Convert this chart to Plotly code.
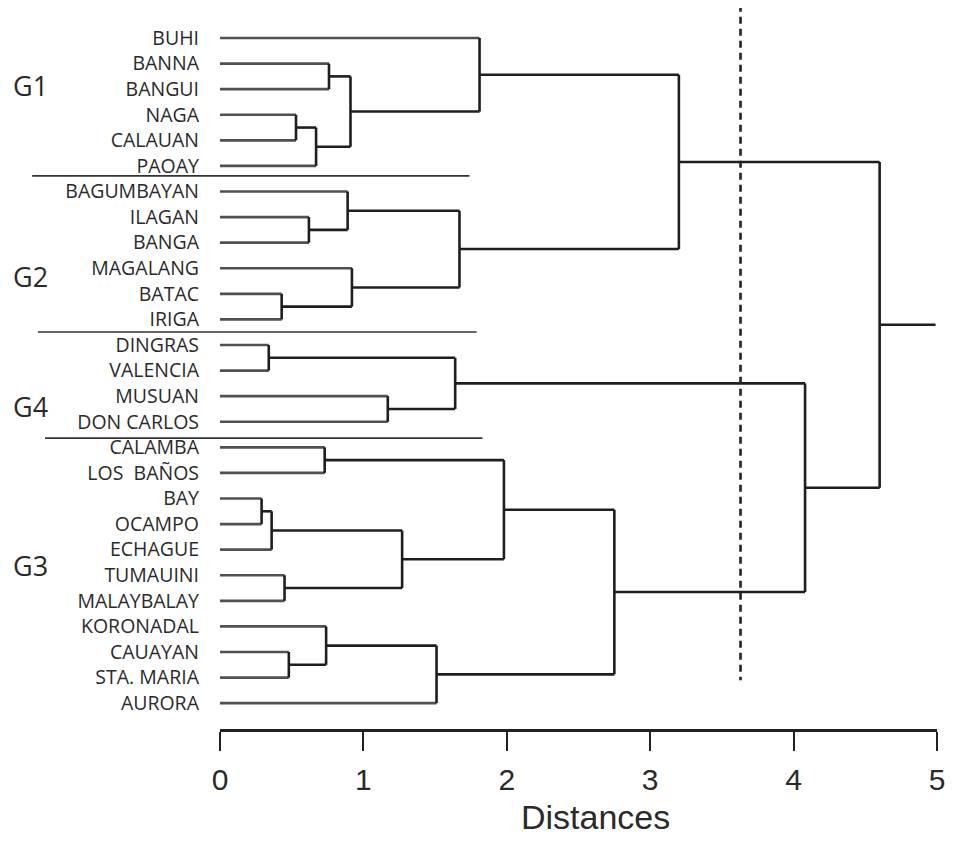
import plotly.graph_objects as go

# ---- data ----
leaves = ["BUHI", "BANNA", "BANGUI", "NAGA", "CALAUAN", "PAOAY",
          "BAGUMBAYAN", "ILAGAN", "BANGA", "MAGALANG", "BATAC", "IRIGA",
          "DINGRAS", "VALENCIA", "MUSUAN", "DON CARLOS",
          "CALAMBA", "LOS  BAÑOS", "BAY", "OCAMPO", "ECHAGUE", "TUMAUINI",
          "MALAYBALAY", "KORONADAL", "CAUAYAN", "STA. MARIA", "AURORA"]

# merges: (cluster id, left child, right child, distance)
merge_ids = ["c1", "c2", "c3", "c4", "c5", "c6", "c7", "c8", "c9", "c10",
             "c11", "c12", "c13", "c14", "c15", "c16", "c17", "c18", "c19",
             "c20", "c21", "c22", "c23", "c24", "c25", "c26"]
merge_left = ["BAY", "DINGRAS", "c1", "BATAC", "TUMAUINI", "CAUAYAN", "NAGA",
              "ILAGAN", "c7", "CALAMBA", "KORONADAL", "BANNA", "BAGUMBAYAN",
              "c12", "MAGALANG", "MUSUAN", "c3", "c11", "c2", "c13", "BUHI",
              "c10", "c22", "c21", "c19", "c24"]
merge_right = ["OCAMPO", "VALENCIA", "ECHAGUE", "IRIGA", "MALAYBALAY",
               "STA. MARIA", "CALAUAN", "BANGA", "PAOAY", "LOS  BAÑOS", "c6",
               "BANGUI", "c8", "c9", "c4", "DON CARLOS", "c5", "AURORA", "c16",
               "c15", "c14", "c17", "c18", "c20", "c23", "c25"]
merge_dist = [0.29, 0.34, 0.36, 0.43, 0.45, 0.48, 0.53, 0.62, 0.67, 0.73,
              0.74, 0.76, 0.89, 0.91, 0.92, 1.17, 1.27, 1.51, 1.64, 1.67,
              1.81, 1.98, 2.75, 3.20, 4.08, 4.60]
root_stub_end = 4.99

cut_distance = 3.63
cut_span = (-1.3, 25.1)

x_ticks = [0, 1, 2, 3, 4, 5]
x_range = [0, 5]

group_names = ["G1", "G2", "G4", "G3"]
group_y = [1.84, 9.34, 14.4, 20.6]
group_x = -1.32

# separators: (leaf-index position, x start, x end) in distance units
sep_y = [5.39, 11.49, 15.64]
sep_x0 = [-1.31, -1.27, -1.22]
sep_x1 = [1.74, 1.79, 1.83]

# ---- build dendrogram ----
pos = {name: (0.0, float(i)) for i, name in enumerate(leaves)}
leaf_x, leaf_y, int_x, int_y = [], [], [], []
for cid, a, b, d in zip(merge_ids, merge_left, merge_right, merge_dist):
    (ha, ya), (hb, yb) = pos[a], pos[b]
    for (hc, yc), child in (((ha, ya), a), ((hb, yb), b)):
        if child in leaves:
            leaf_x += [hc, d, None]; leaf_y += [yc, yc, None]
        else:
            int_x += [hc, d, None]; int_y += [yc, yc, None]
    int_x += [d, d, None]; int_y += [ya, yb, None]
    pos[cid] = (d, (ya + yb) / 2)

rh, ry = pos[merge_ids[-1]]
int_x += [rh, root_stub_end, None]; int_y += [ry, ry, None]

fig = go.Figure()
fig.add_trace(go.Scatter(x=leaf_x, y=leaf_y, mode="lines",
                         line=dict(color="#505050", width=2.6),
                         hoverinfo="skip", showlegend=False))
fig.add_trace(go.Scatter(x=int_x, y=int_y, mode="lines",
                         line=dict(color="#1e1e1e", width=2.6),
                         hoverinfo="skip", showlegend=False))

span = x_range[1] - x_range[0]
shapes = [dict(type="line", xref="x", yref="y", x0=cut_distance, x1=cut_distance,
               y0=cut_span[0], y1=cut_span[1],
               line=dict(color="#222", width=2.6, dash="7px,5px"))]
for yv, a, b in zip(sep_y, sep_x0, sep_x1):
    shapes.append(dict(type="line", xref="paper", yref="y",
                       x0=(a - x_range[0]) / span, x1=(b - x_range[0]) / span,
                       y0=yv, y1=yv, line=dict(color="#333", width=1.6)))

annotations = []
for g, gy in zip(group_names, group_y):
    annotations.append(dict(text=g, xref="paper", yref="y",
                            x=(group_x - x_range[0]) / span, y=gy,
                            showarrow=False, xanchor="center", yanchor="middle",
                            font=dict(family="Open Sans", size=27, color="#2a2a2a")))
annotations.append(dict(text="Distances", xref="paper", yref="paper",
                        x=(2.62 - x_range[0]) / span, y=-0.151,
                        showarrow=False, xanchor="center", yanchor="bottom",
                        font=dict(family="Liberation Sans Narrow, Liberation Sans",
                                  size=34, color="#2a2a2a")))

fig.update_layout(
    width=948, height=830,
    margin=dict(l=212, r=19, t=0, b=109),
    paper_bgcolor="white", plot_bgcolor="white",
    shapes=shapes, annotations=annotations,
    xaxis=dict(range=x_range, tickvals=x_ticks, ticktext=[str(t) for t in x_ticks],
               showgrid=False, zeroline=False, showline=True, linewidth=2.6,
               linecolor="#222", ticks="outside", ticklen=19, tickwidth=2,
               tickcolor="#222", ticklabelstandoff=3, ticklabeloverflow="allow",
               tickfont=dict(family="Liberation Sans Narrow, Liberation Sans",
                             size=30, color="#2a2a2a")),
    yaxis=dict(range=[27.01, -1.173], tickvals=list(range(len(leaves))),
               ticktext=leaves, showgrid=False, zeroline=False, showline=False,
               ticks="", ticklabelstandoff=20,
               tickfont=dict(family="Open Sans", size=19.5, color="#2a2a2a")),
)

fig.write_html("out.html")
